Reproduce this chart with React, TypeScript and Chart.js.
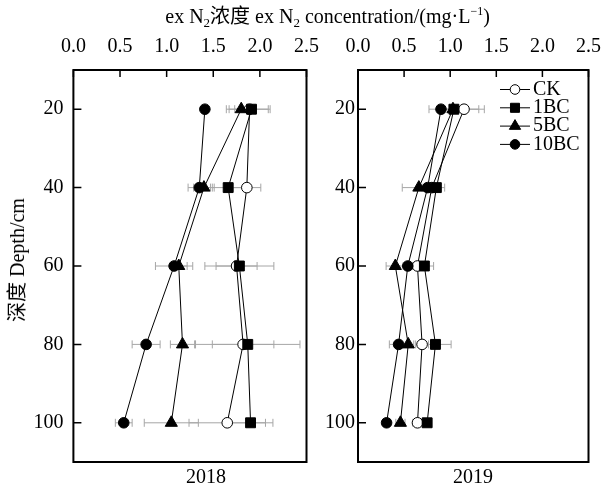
import React, { useEffect, useRef } from "react";
import { Chart, registerables } from "chart.js";
import { drawPoint } from "chart.js/helpers";

Chart.register(...registerables);

const SERIF = '"Liberation Serif", "Times New Roman", "Noto Sans CJK SC", serif';

const depths = [20, 40, 60, 80, 100];
const depthTicks = [20, 40, 60, 80, 100];
const concTicks = [0, 0.5, 1.0, 1.5, 2.0, 2.5];
const seriesNames = ["CK", "1BC", "5BC", "10BC"];
const panelYears = ["2018", "2019"];

// 2018
const ck2018 = [1.89, 1.86, 1.75, 1.82, 1.65];
const bc1_2018 = [1.91, 1.66, 1.78, 1.87, 1.9];
const bc5_2018 = [1.8, 1.4, 1.13, 1.17, 1.05];
const bc10_2018 = [1.41, 1.35, 1.08, 0.78, 0.54];
const ckErr2018 = [0.22, 0.15, 0.22, 0.33, 0.41];
const bc1Err2018 = [0.18, 0.17, 0.37, 0.56, 0.24];
const bc5Err2018 = [0.16, 0.11, 0.09, 0.13, 0.29];
const bc10Err2018 = [0.03, 0.12, 0.2, 0.15, 0.09];

// 2019
const ck2019 = [1.15, 0.8, 0.645, 0.695, 0.645];
const bc1_2019 = [1.04, 0.85, 0.72, 0.84, 0.75];
const bc5_2019 = [1.03, 0.66, 0.405, 0.545, 0.46];
const bc10_2019 = [0.9, 0.755, 0.54, 0.44, 0.31];
const ckErr2019 = [0.22, 0.08, 0.07, 0.07, 0.05];
const bc1Err2019 = [0.27, 0.09, 0.1, 0.17, 0.03];
const bc5Err2019 = [0.1, 0.18, 0.1, 0.06, 0.05];
const bc10Err2019 = [0.04, 0.06, 0.05, 0.1, 0.04];

const pointStyles = ["circle", "rect", "triangle", "circle"];
const pointFills = ["#ffffff", "#000000", "#000000", "#000000"];
const pointRadii = [5.3, 7, 7, 5.3];
const legendRadii = [4.8, 6.4, 6.5, 4.8];

const errorBarPlugin = {
  id: "hErrorBars",
  beforeDatasetsDraw(chart: any) {
    const ctx = chart.ctx;
    const xs = chart.scales.x;
    const ys = chart.scales.y;
    ctx.save();
    ctx.strokeStyle = "#a6a6a6";
    ctx.lineWidth = 1;
    chart.data.datasets.forEach((ds: any) => {
      ds.data.forEach((p: any, j: number) => {
        const e = ds.errs[j];
        const x1 = xs.getPixelForValue(p.x - e);
        const x2 = xs.getPixelForValue(p.x + e);
        const y = ys.getPixelForValue(p.y);
        ctx.beginPath();
        ctx.moveTo(x1, y);
        ctx.lineTo(x2, y);
        ctx.moveTo(x1, y - 4);
        ctx.lineTo(x1, y + 4);
        ctx.moveTo(x2, y - 4);
        ctx.lineTo(x2, y + 4);
        ctx.stroke();
      });
    });
    ctx.restore();
  },
};

const framePlugin = {
  id: "frameTicks",
  afterDraw(chart: any) {
    const ctx = chart.ctx;
    const a = chart.chartArea;
    const xs = chart.scales.x;
    const ys = chart.scales.y;
    ctx.save();
    ctx.strokeStyle = "#000";
    ctx.lineWidth = 1.5;
    ctx.beginPath();
    xs.ticks.forEach((t: any) => {
      const x = xs.getPixelForValue(t.value);
      ctx.moveTo(x, a.top);
      ctx.lineTo(x, a.top + 7);
    });
    ys.ticks.forEach((t: any) => {
      const y = ys.getPixelForValue(t.value);
      ctx.moveTo(a.left, y);
      ctx.lineTo(a.left + 8, y);
    });
    ctx.stroke();
    ctx.lineWidth = 2;
    ctx.strokeRect(a.left, a.top, a.right - a.left, a.bottom - a.top);
    ctx.restore();
  },
};

const legendPlugin = {
  id: "lineMarkerLegend",
  afterDraw(chart: any) {
    const ctx = chart.ctx;
    const a = chart.chartArea;
    ctx.save();
    seriesNames.forEach((name, i) => {
      const y = a.top + 19.5 + i * 18.3;
      const x0 = a.left + 142;
      ctx.strokeStyle = "#000";
      ctx.lineWidth = 1;
      ctx.beginPath();
      ctx.moveTo(x0, y);
      ctx.lineTo(x0 + 30, y);
      ctx.stroke();
      ctx.fillStyle = pointFills[i];
      drawPoint(
        ctx,
        { pointStyle: pointStyles[i], radius: legendRadii[i], borderWidth: 1, rotation: 0 } as any,
        x0 + 15,
        y
      );
      ctx.fillStyle = "#000";
      ctx.font = "20px " + SERIF;
      ctx.textBaseline = "middle";
      ctx.textAlign = "left";
      ctx.fillText(name, x0 + 33, y);
    });
    ctx.restore();
  },
};

function makeChart(
  canvas: HTMLCanvasElement,
  values: number[][],
  errs: number[][],
  areaLeft: number,
  padRight: number,
  yTickPad: number,
  withLegend: boolean
) {
  const plugins: any[] = [errorBarPlugin, framePlugin];
  if (withLegend) plugins.push(legendPlugin);
  return new Chart(canvas, {
    type: "scatter",
    data: {
      datasets: seriesNames.map((name, i) => ({
        label: name,
        data: depths.map((d, j) => ({ x: values[i][j], y: d })),
        errs: errs[i],
        showLine: true,
        borderColor: "#000",
        borderWidth: 1,
        pointStyle: pointStyles[i],
        pointRadius: pointRadii[i],
        pointHoverRadius: pointRadii[i],
        pointBackgroundColor: pointFills[i],
        pointBorderColor: "#000",
        pointBorderWidth: 1,
        order: seriesNames.length - i,
      })) as any,
    },
    options: {
      animation: false,
      responsive: false,
      events: [],
      layout: { padding: { left: 0, top: 0, right: padRight, bottom: 26 } },
      plugins: { legend: { display: false }, tooltip: { enabled: false } },
      scales: {
        x: {
          type: "linear",
          position: "top",
          min: 0,
          max: 2.5,
          afterBuildTicks: (s: any) => {
            s.ticks = concTicks.map((v) => ({ value: v }));
          },
          afterFit: (s: any) => {
            s.height = 70;
          },
          grid: { display: false, drawTicks: false },
          border: { display: false },
          ticks: {
            color: "#000",
            padding: 11,
            font: { family: SERIF, size: 20 },
            callback: (v: any) => Number(v).toFixed(1),
          },
        },
        y: {
          type: "linear",
          position: "left",
          reverse: true,
          min: 10,
          max: 110,
          afterBuildTicks: (s: any) => {
            s.ticks = depthTicks.map((v) => ({ value: v }));
          },
          afterFit: (s: any) => {
            s.width = areaLeft;
          },
          grid: { display: false, drawTicks: false },
          border: { display: false },
          ticks: {
            color: "#000",
            padding: yTickPad,
            font: { family: SERIF, size: 20 },
            callback: (v: any) => String(v),
          },
        },
      },
    } as any,
    plugins,
  });
}

export default function App() {
  const ref1 = useRef<HTMLCanvasElement>(null);
  const ref2 = useRef<HTMLCanvasElement>(null);

  useEffect(() => {
    const c1 = makeChart(
      ref1.current!,
      [ck2018, bc1_2018, bc5_2018, bc10_2018],
      [ckErr2018, bc1Err2018, bc5Err2018, bc10Err2018],
      73.4,
      18.1,
      10,
      false
    );
    const c2 = makeChart(
      ref2.current!,
      [ck2019, bc1_2019, bc5_2019, bc10_2019],
      [ckErr2019, bc1Err2019, bc5Err2019, bc10Err2019],
      43,
      15,
      3,
      true
    );
    return () => {
      c1.destroy();
      c2.destroy();
    };
  }, []);

  const textBase: React.CSSProperties = {
    position: "absolute",
    fontFamily: SERIF,
    fontSize: "20px",
    lineHeight: "20px",
    color: "#000",
    whiteSpace: "nowrap",
  };

  return (
    <div
      style={{
        position: "absolute",
        left: 0,
        top: 0,
        width: 612,
        height: 488,
        background: "#fff",
        overflow: "hidden",
      }}
    >
      <canvas
        ref={ref1}
        width={330}
        height={488}
        style={{ position: "absolute", left: 0, top: 0, width: 330, height: 488 }}
      />
      <canvas
        ref={ref2}
        width={297}
        height={488}
        style={{ position: "absolute", left: 315, top: 0, width: 297, height: 488 }}
      />
      <div style={{ ...textBase, left: 327.6, top: 5.75, transform: "translateX(-50%)" }}>
        ex N
        <span style={{ fontSize: "13px", position: "relative", top: "4px" }}>2</span>
        浓度 ex N
        <span style={{ fontSize: "13px", position: "relative", top: "4px" }}>2</span>
        {" concentration/(mg·L"}
        <span style={{ fontSize: "12px", position: "relative", top: "-8px" }}>−1</span>)
      </div>
      <div
        style={{
          ...textBase,
          left: 17,
          top: 260,
          transform: "translate(-50%, -50%) rotate(-90deg)",
        }}
      >
        深度 Depth/cm
      </div>
      <div style={{ ...textBase, left: 206, top: 476, transform: "translate(-50%, -50%)" }}>
        {panelYears[0]}
      </div>
      <div style={{ ...textBase, left: 473, top: 476, transform: "translate(-50%, -50%)" }}>
        {panelYears[1]}
      </div>
    </div>
  );
}
